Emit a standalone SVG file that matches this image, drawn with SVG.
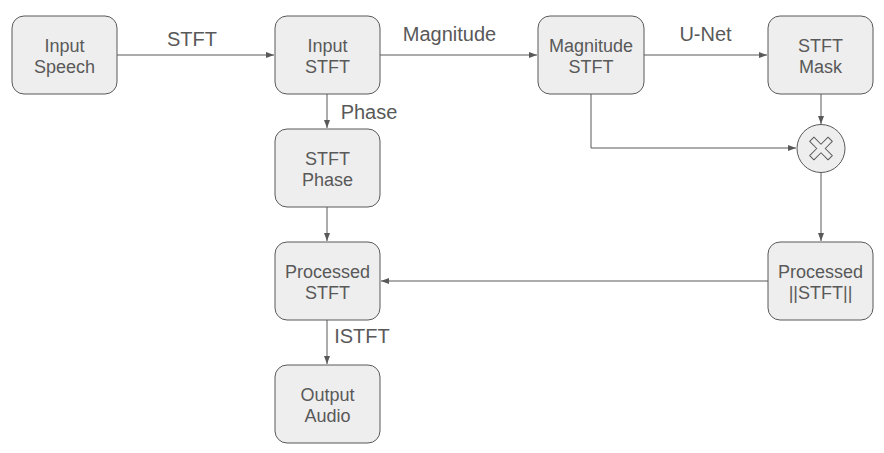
<svg xmlns="http://www.w3.org/2000/svg" width="884" height="453" viewBox="0 0 884 453">
<defs>
<marker id="ah" viewBox="0 0 8 6" refX="8" refY="3" markerWidth="8" markerHeight="6" markerUnits="userSpaceOnUse" orient="auto">
<path d="M0,0 L8,3 L0,6 Z" fill="#595959"/>
</marker>
<style>
.box{fill:#eeeeee;stroke:#595959;stroke-width:1}
.nt{font-family:"Liberation Sans",Arial,sans-serif;font-size:18px;fill:#595959;text-anchor:middle}
.lb{font-family:"Liberation Sans",Arial,sans-serif;font-size:20px;fill:#595959;text-anchor:middle}
.ln{fill:none;stroke:#595959;stroke-width:1;marker-end:url(#ah)}
</style>
</defs>
<rect width="884" height="453" fill="#ffffff"/>
<g id="connectors">
<path class="ln" d="M117,55 H274"/>
<path class="ln" d="M380,55 H537"/>
<path class="ln" d="M644,55 H767"/>
<path class="ln" d="M327,94 V128"/>
<path class="ln" d="M327,207 V241"/>
<path class="ln" d="M327,320 V364"/>
<path class="ln" d="M591,94 V148 H796"/>
<path class="ln" d="M821,94 V124"/>
<path class="ln" d="M821,172 V241"/>
<path class="ln" d="M768,281 H381"/>
<text class="lb" x="192" y="46">STFT</text>
<text class="lb" x="449.5" y="41">Magnitude</text>
<text class="lb" x="705.5" y="41">U-Net</text>
<text class="lb" x="369" y="118.5" font-size="18">Phase</text>
<text class="lb" x="362" y="343" font-size="18">ISTFT</text>
</g>
<g id="input-speech">
<rect class="box" x="12" y="16" width="105" height="78" rx="12"/>
<text class="nt" x="64.5" y="51.5">Input</text>
<text class="nt" x="64.5" y="72.5">Speech</text>
</g>
<g id="input-stft">
<rect class="box" x="275" y="16" width="105" height="78" rx="12"/>
<text class="nt" x="327.5" y="51.5">Input</text>
<text class="nt" x="327.5" y="72.5">STFT</text>
</g>
<g id="magnitude-stft">
<rect class="box" x="538" y="16" width="106" height="78" rx="12"/>
<text class="nt" x="591" y="51.5">Magnitude</text>
<text class="nt" x="591" y="72.5">STFT</text>
</g>
<g id="stft-mask">
<rect class="box" x="768" y="16" width="105" height="78" rx="12"/>
<text class="nt" x="820.5" y="51.5">STFT</text>
<text class="nt" x="820.5" y="72.5">Mask</text>
</g>
<g id="multiply">
<circle class="box" cx="821" cy="148.5" r="24"/>
<path transform="translate(821,148.5) rotate(45)" d="M-3,-13 H3 V-3 H13 V3 H3 V13 H-3 V3 H-13 V-3 H-3 Z" fill="none" stroke="#595959" stroke-width="1" stroke-linejoin="round"/>
</g>
<g id="stft-phase">
<rect class="box" x="275" y="129" width="105" height="78" rx="12"/>
<text class="nt" x="327.5" y="164.5">STFT</text>
<text class="nt" x="327.5" y="185.5">Phase</text>
</g>
<g id="processed-stft">
<rect class="box" x="275" y="242" width="105" height="78" rx="12"/>
<text class="nt" x="327.5" y="277.5">Processed</text>
<text class="nt" x="327.5" y="298.5">STFT</text>
</g>
<g id="processed-mag">
<rect class="box" x="768" y="242" width="105" height="78" rx="12"/>
<text class="nt" x="820.5" y="277.5">Processed</text>
<text class="nt" x="820.5" y="298.5">||STFT||</text>
</g>
<g id="output-audio">
<rect class="box" x="275" y="365" width="105" height="78" rx="12"/>
<text class="nt" x="327.5" y="400.5">Output</text>
<text class="nt" x="327.5" y="421.5">Audio</text>
</g>
</svg>
